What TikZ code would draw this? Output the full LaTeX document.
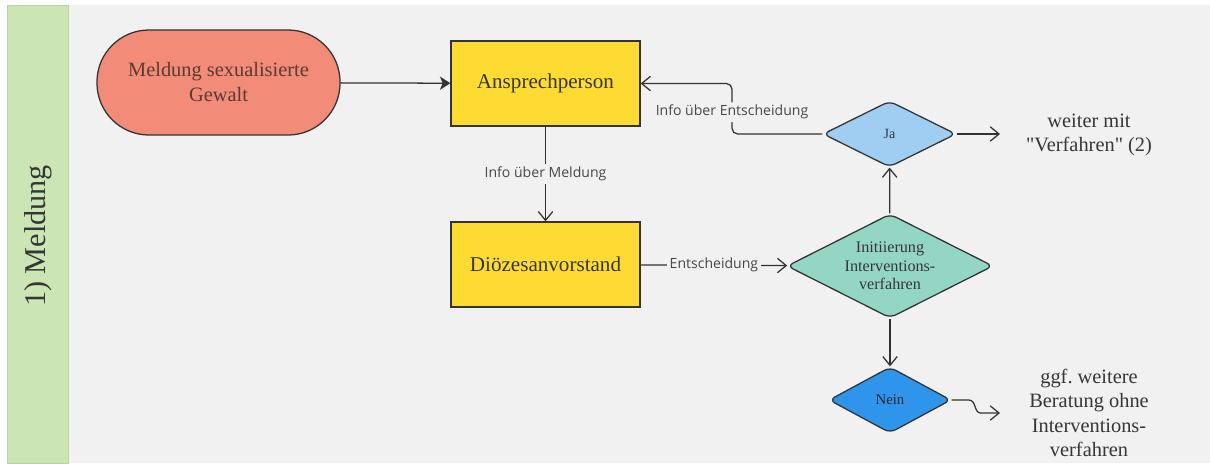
\documentclass[tikz,border=0pt]{standalone}
\usepackage{fontspec}
\setmainfont{Liberation Serif}
\newfontfamily\plainserif{Liberation Serif}
\newfontfamily\labelfont{Open Sans}
\usetikzlibrary{shapes.geometric,arrows.meta,positioning}

\definecolor{bggray}{HTML}{F1F1F1}
\definecolor{lanegreen}{HTML}{CCE5B5}
\definecolor{laneedge}{HTML}{B5D69D}
\definecolor{salmon}{HTML}{F28B78}
\definecolor{boxyellow}{HTML}{FDDB33}
\definecolor{teal}{HTML}{94D6C6}
\definecolor{jablue}{HTML}{A0CEF2}
\definecolor{neinblue}{HTML}{2F94EC}
\definecolor{linec}{HTML}{333333}
\definecolor{textc}{HTML}{363636}
\definecolor{lblc}{HTML}{484848}

\begin{document}
\begin{tikzpicture}[x=0.025cm, y=-0.025cm,
  box/.style={draw=linec, line width=0.9pt, fill=boxyellow, minimum width=4.725cm,
    minimum height=2.125cm, text=textc, font=\fontsize{15}{18}\selectfont},
  decision/.style={diamond, draw=linec, line width=0.9pt, rounded corners=0.16cm,
    inner sep=0pt, aspect=2, text=textc, align=center},
  conn/.style={draw=linec, line width=0.9pt},
  lbl/.style={fill=bggray, text=lblc, inner sep=2pt,
    font=\labelfont\fontsize{10}{12}\selectfont},
  outtext/.style={text=textc, align=center, font=\plainserif\fontsize{14.5}{17.4}\selectfont},
  open/.tip={Straight Barb[length=2.2mm, width=3.6mm]},
  full/.tip={Stealth[length=2.6mm, width=3.3mm, inset=0.7mm]}]
  \useasboundingbox (0,0) rectangle (1210,463);
  % background and lane
  \fill[white] (0,0) rectangle (1210,463);
  \fill[bggray] (68,5) rectangle (1210,463);
  \draw[fill=lanegreen, draw=laneedge, line width=0.6pt] (7,5) rectangle (68,463);
  \node[rotate=90, text=textc, font=\fontsize{21.5}{24}\selectfont] (lane) at (38,236) {1) Meldung};
  % start
  \node[draw=linec, line width=0.9pt, fill=salmon, rounded corners=1.3cm,
    minimum width=6.075cm, minimum height=2.625cm, align=center, text={rgb,255:red,91;green,58;blue,52},
    font=\fontsize{14.5}{17.8}\selectfont] (meldung) at (218.5,82.5) {Meldung sexualisierte\\Gewalt};
  % boxes
  \node[box] (ansp) at (545.5,83.5) {Ansprechperson};
  \node[box] (dioez) at (545.5,264.5) {Diözesanvorstand};
  % decisions
  \node[decision, fill=teal, minimum width=5.15cm, minimum height=2.6cm,
    font=\fontsize{11.5}{13.3}\selectfont] (init) at (890,266) {Initiierung\\Interventions-\\verfahren};
  \node[decision, fill=jablue, minimum width=3.325cm, minimum height=1.65cm,
    font=\fontsize{10}{12}\selectfont] (ja) at (889.5,134) {Ja};
  \node[decision, fill=neinblue, minimum width=3.05cm, minimum height=1.65cm,
    text=black!85, font=\fontsize{10.5}{12}\selectfont] (nein) at (890,400) {Nein};
  % outcomes
  \node[outtext] (weiter) at (1089,135) {weiter mit\\"Verfahren" (2)};
  \node[outtext] (beratung) at (1089,413) {ggf.\ weitere\\Beratung ohne\\Interventions-\\verfahren};
  \coordinate (jaend) at (1000,134);
  \coordinate (neinend) at (1000,413);
  \coordinate (bend) at (732,134);
  % connectors
  \draw[conn, -full] (meldung) -- (ansp);
  \draw[conn, -open] (ansp) -- node[lbl] {Info über Meldung} (dioez);
  \draw[conn, -open] (dioez) -- node[lbl] {Entscheidung} (init);
  \draw[conn, -open] (init) -- (ja);
  \draw[conn, -open] (init) -- (nein);
  \draw[conn, -open, rounded corners=4pt] (ja.west) -- (bend) |- node[lbl, pos=0.215] {Info über Entscheidung} (ansp.east);
  \draw[conn, -open] (ja.east) -- (jaend);
  \draw[conn, -open] (nein.east) -- ++(17,0) .. controls +(8,0) and +(-7,0) .. ++(12,13) -- (neinend);
\end{tikzpicture}
\end{document}
